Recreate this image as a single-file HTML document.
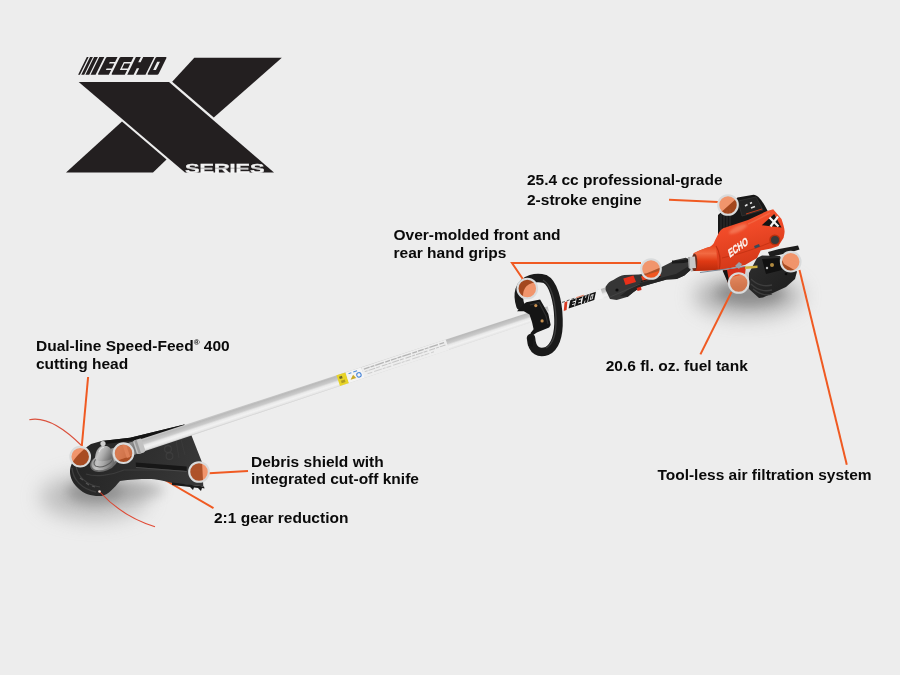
<!DOCTYPE html>
<html><head><meta charset="utf-8">
<style>
html,body{margin:0;padding:0;background:#ededed;}
body{width:900px;height:675px;overflow:hidden;position:relative;}
svg{position:absolute;left:0;top:0;display:block;will-change:transform;}
.t{font-family:"Liberation Sans",sans-serif;font-weight:bold;font-size:15.5px;fill:#0a0a0a;}
</style></head>
<body>
<svg width="900" height="675" viewBox="0 0 900 675">
<defs>
  <filter id="blur6" x="-50%" y="-50%" width="200%" height="200%"><feGaussianBlur stdDeviation="6"/></filter>
  <filter id="blur10" x="-50%" y="-50%" width="200%" height="200%"><feGaussianBlur stdDeviation="10"/></filter>
  <filter id="blur1" x="-50%" y="-50%" width="200%" height="200%"><feGaussianBlur stdDeviation="0.8"/></filter>
</defs>
<rect width="900" height="675" fill="#ededed"/>

<!-- LOGO -->
<g id="logo" fill="#231f20">
  <!-- main bar -->
  <polygon points="78.7,82 169,82 274,172.6 185,172.6"/>
  <!-- lower-left arm -->
  <polygon points="66,172.6 122,121.5 166.5,159.5 153,172.6"/>
  <!-- upper-right arm -->
  <polygon points="194.3,57.7 281.8,57.7 213.8,117.6 172.2,81.7"/>
  <!-- SERIES -->
  <text x="185" y="172.8" font-family="Liberation Sans" font-weight="bold" font-size="12" fill="#f4f4f4" stroke="#f4f4f4" stroke-width="0.35" textLength="79.5" lengthAdjust="spacingAndGlyphs">SERIES</text>
  <path d="M186,168.2 H265" stroke="#231f20" stroke-width="0.6" opacity="0.5"/>
  <!-- ECHO -->
  <g transform="translate(0,74.8) skewX(-26.1)">
    <path d="M78.1,0 h1.8 v-17.8 h-1.8 z M81.3,0 h2.9 v-17.8 h-2.9 z M85.4,0 h3.8 v-17.8 h-3.8 z M90.6,0 h5 v-17.8 h-5 z"/>
    <path d="M97.6,-16.6 q0,-1.2 1.2,-1.2 h10 v5 h-5.3 v1.6 h5.3 v4.8 h-5.3 v1.6 h5.3 v4.8 h-10 q-1.2,0 -1.2,-1.2 z"/>
    <path d="M111.2,-16.6 q0,-1.2 1.2,-1.2 h12.4 v5 h-7.3 v8 h7.3 v4.8 h-12.4 q-1.2,0 -1.2,-1.2 z M118.9,-11.2 h5.9 v4.8 h-5.9 z"/>
    <path d="M127.2,-17.8 h4.9 v5.3 h2.4 v-5.3 h11 v17.8 h-9.5 v-6.5 h-2.4 v6.5 h-6.4 z"/>
    <path d="M147.2,-16.6 q0,-1.2 1.2,-1.2 h8.6 q1.2,0 1.2,1.2 v15.4 q0,1.2 -1.2,1.2 h-8.6 q-1.2,0 -1.2,-1.2 z M150.8,-13 v8.2 h2.8 v-8.2 z" fill-rule="evenodd"/>
  </g>
</g>

<!-- SHADOWS -->
<g id="shadows">
  <ellipse cx="94" cy="497" rx="54" ry="23" fill="#9a9a9a" opacity="0.55" filter="url(#blur10)"/>
  <ellipse cx="95" cy="492" rx="28" ry="12" fill="#727272" opacity="0.55" filter="url(#blur6)"/>
  <ellipse cx="132" cy="490" rx="32" ry="9" fill="#8a8a8a" opacity="0.45" filter="url(#blur6)"/>
  <ellipse cx="748" cy="296" rx="54" ry="21" fill="#8a8a8a" opacity="0.6" filter="url(#blur10)"/>
  <ellipse cx="750" cy="293" rx="34" ry="12" fill="#707070" opacity="0.55" filter="url(#blur6)"/>
</g>

<!-- TRIMMER LINES -->
<path d="M29.3,419.7 C42,417 58,422 82,446" fill="none" stroke="#d8402a" stroke-width="1.1" opacity="0.9"/>

<!-- callout line 2:1 (behind shield) -->
<line x1="165" y1="480" x2="213.5" y2="508.2" stroke="#f05a22" stroke-width="2"/>

<!-- SHIELD + HEAD -->
<defs>
  <linearGradient id="shieldg" x1="0" y1="0" x2="1" y2="0.2">
    <stop offset="0" stop-color="#222"/>
    <stop offset="0.5" stop-color="#2c2c2c"/>
    <stop offset="1" stop-color="#363636"/>
  </linearGradient>
  <radialGradient id="gearg" cx="0.4" cy="0.35" r="0.7">
    <stop offset="0" stop-color="#e6e6e6"/>
    <stop offset="0.5" stop-color="#b4b4b4"/>
    <stop offset="1" stop-color="#6e6e6e"/>
  </radialGradient>
</defs>
<g id="head">
  <!-- shield + head body -->
  <path d="M91,444 L101.5,440.9 L130,437.8 L184.3,424.5 L191.4,435.2 L202.1,462.4 L203.3,486.2 L174.8,483.8 C165,481 155,479 148.7,479 C140,479 130,479.6 120,481 C114,488 108,495 101.5,496 C92,496.5 84,494 79,489 C73,484 70,478 70,471.5 C70,466 73,460 78,455 C82,451 86,447 91,444 Z" fill="url(#shieldg)"/>
  <!-- spool ridges -->
  <path d="M72,468 C73,480 82,489 96,492" fill="none" stroke="#3e3e3e" stroke-width="1.4"/>
  <path d="M76,465 C77,476 86,485 100,487" fill="none" stroke="#404040" stroke-width="1.2"/>
  <path d="M80,478 l3,2 M86,483 l3,2 M92,486 l3,1" stroke="#555" stroke-width="1.2"/>
  <!-- rim line -->
  <path d="M86,474 C95,477 110,476 124,470 L200,470" fill="none" stroke="#3c3c3c" stroke-width="1.2"/>
  <!-- knife band -->
  <path d="M172,482.5 L204,486.5 L204.5,488.5 L202,488 L201,491 L198,488 L194,487.5 L193,490 L190,487 L172,485 Z" fill="#1a1a1a"/>
  <!-- top black flange -->
  <path d="M101.5,440.9 L130,437.8 L184.3,424.5 L186,428 L130,441 L105,444 Z" fill="#141414"/>
  <!-- slot -->
  <path d="M135.7,462.4 L186.7,466.5 L186.7,471 L136,467 Z" fill="#171717"/>
  <path d="M136,467.5 L186.7,471.5" stroke="#4a4a4a" stroke-width="1"/>
  <!-- emboss -->
  <circle cx="168" cy="449" r="3.4" fill="none" stroke="#3e3e3e" stroke-width="1.1"/>
  <circle cx="169.5" cy="456" r="3.4" fill="none" stroke="#3e3e3e" stroke-width="1.1"/>
  <path d="M176,440 L179,458 M181,439 L185,455" stroke="#3a3a3a" stroke-width="1"/>
  <!-- gear housing -->
  <defs>
    <linearGradient id="domeg" x1="0" y1="0" x2="1" y2="0.4">
      <stop offset="0" stop-color="#7e7e7e"/>
      <stop offset="0.35" stop-color="#c4c4c4"/>
      <stop offset="0.6" stop-color="#a8a8a8"/>
      <stop offset="1" stop-color="#6c6c6c"/>
    </linearGradient>
  </defs>
  <g transform="translate(104,462) rotate(-22)">
    <ellipse cx="0" cy="0" rx="14.5" ry="9" fill="#6a6a6a"/>
    <ellipse cx="0" cy="-0.5" rx="13" ry="7.8" fill="url(#domeg)"/>
    <ellipse cx="0" cy="-1.5" rx="10" ry="5.5" fill="none" stroke="#5e5e5e" stroke-width="1"/>
  </g>
  <path d="M95,459 C95,452 98,447 102,446 L107,446 C111,448 114,452 114,457 C110,461 100,463 95,459 Z" fill="url(#domeg)"/>
  <path d="M99,452 C100,449 102,447.5 104,447.5" fill="none" stroke="#e0e0e0" stroke-width="1.2"/>
  <circle cx="103" cy="443.5" r="2.6" fill="#cfcfcf"/>
</g>

<path d="M99.8,492 C110,503 126,518 155,526.7" fill="none" stroke="#e03a22" stroke-width="1.1" opacity="0.9"/>
<circle cx="99.5" cy="491.5" r="1.3" fill="#f0e0d8"/>

<!-- SHAFT -->
<defs>
  <linearGradient id="tube" x1="0" y1="0" x2="0" y2="1">
    <stop offset="0" stop-color="#cdcdcd"/>
    <stop offset="0.15" stop-color="#bababa"/>
    <stop offset="0.42" stop-color="#cbcbcb"/>
    <stop offset="0.55" stop-color="#e8e8e8"/>
    <stop offset="0.72" stop-color="#f2f2f2"/>
    <stop offset="0.88" stop-color="#e6e6e6"/>
    <stop offset="1" stop-color="#c8c8c8"/>
  </linearGradient>
</defs>
<g transform="translate(135,447.75) rotate(-18.263)">
  <path d="M0,-6.3 L502.3,-4.8 L502.3,4.8 L0,6.3 Z" fill="url(#tube)"/>
  <!-- yellow label -->
  <rect x="214" y="-5.6" width="9.5" height="11.2" fill="#e8d428"/>
  <rect x="216" y="-3.5" width="3" height="2.5" fill="#3a3a2a" opacity="0.7"/>
  <rect x="216.5" y="1" width="4" height="2.5" fill="#8a7a20" opacity="0.6"/>
  <rect x="223.5" y="-5.6" width="16.5" height="11.2" fill="#f4f4f4"/>
  <path d="M226,-3.5 h3 M231,-3.5 h4" stroke="#4a8ad8" stroke-width="1"/>
  <path d="M226,3 l4,-4 l2,4z" fill="#c8a828"/>
  <circle cx="235.5" cy="1" r="2.2" fill="none" stroke="#4a86d8" stroke-width="1.1"/>
  <!-- sleeve with text -->
  <rect x="240" y="-5.4" width="89" height="10.8" fill="#eeeeee"/>
  <path d="M242,-3 h85" stroke="#b4b4b4" stroke-width="1.3" stroke-dasharray="6 1 4 1 9 1.5 5 1"/>
  <path d="M242,-0.3 h85" stroke="#c4c4c4" stroke-width="1" stroke-dasharray="3 1 7 1 4 2 6 1"/>
  <path d="M244,2.6 h70" stroke="#cfcfcf" stroke-width="1" stroke-dasharray="5 2 8 1 3 1"/>
  <!-- ECHO decal near handle -->
  <rect x="436" y="-5" width="56" height="10" fill="#f2f2f2"/>
  <path d="M450,4.5 l3.5,-8 h3 l-3.5,8z" fill="#d83a22"/>
  <g transform="skewX(-30)">
    <path d="M457.5,3.6 h27 v-7.2 h-27z" fill="#151515"/>
    <path d="M460.5,-1.2 h3 M460.5,1.2 h3 M467,-1.5 h3 v3 h-3 M474.2,-3.6 v2.4 M474.2,1.2 v2.4 M480,-1.8 h2 v3.6 h-2z M463.8,-3.6 v7.2 M470.8,-3.6 v7.2 M477.5,-3.6 v7.2" fill="none" stroke="#f2f2f2" stroke-width="0.9"/>
  </g>
  <path d="M446,-4.2 h3 M451,-4.2 h3 M456,-4.2 h3 M461,-4.2 h3" stroke="#555" stroke-width="0.9"/>
  <path d="M466,-4.2 h8" stroke="#e07050" stroke-width="0.9"/>
</g>

<g id="collar">
  <g transform="translate(135,447.75) rotate(-18.263)">
    <rect x="-24" y="-6.5" width="25" height="13" fill="url(#domeg)"/>
    <rect x="-24" y="-6.5" width="25" height="13" fill="#8c8c8c" opacity="0.45"/>
    <rect x="-11" y="-7.2" width="3.5" height="14.4" fill="#b8b8b8"/>
  </g>
  <!-- collar -->
  <g transform="translate(135,447.75) rotate(-18.263)">
    <rect x="0" y="-7.2" width="9" height="14.4" rx="2" fill="#c2c2c2"/>
    <rect x="1.5" y="-7.2" width="2.5" height="14.4" fill="#9c9c9c"/>
  </g>
</g>

<!-- FRONT HANDLE -->
<g id="fhandle">
  <path d="M520.5,306 C517,295 518,283 531,279 C536,277.5 540,277.5 545,279 C553,283 558,300 558.5,319 C559,335 555,347 547,351 C540,353.5 532,352 531,338" fill="none" stroke="#1a1a1a" stroke-width="8.5" stroke-linecap="round"/>
  <path d="M543,280 C551,285 555,300 556,318 C556.5,334 553,344 546,348" fill="none" stroke="#3c3c3c" stroke-width="1.3"/>
  <path d="M517,311.3 L523.8,304 L526.3,302.3 L540.1,299.5 L548.3,313.7 L550.7,325.1 L549.1,327.6 L536.9,332.5 L532,335.7 L528.7,337.3 L527.9,345.5 L532.5,347 L533.5,338 L530.4,333.3 L533.6,329.2 L532,321.9 L529.5,314.5 L523.8,311.3 Z" fill="#151515"/>
  <path d="M530,305 L539,302.5 L546,316 L548,324" fill="none" stroke="#2e2e2e" stroke-width="1.2"/>
  <circle cx="535.8" cy="305.6" r="1.6" fill="#c89050"/>
  <circle cx="542.1" cy="320.9" r="1.6" fill="#c89050"/>
</g>

<!-- REAR HANDLE -->
<g id="rhandle">
  <path d="M605.6,286.7 C608,283 610,281 613.3,280 C618,277 621,275.5 624.4,275 L638.9,274.4 L646.7,273.3 L662.2,266.7 L675.6,260 L685.6,257.8 L688.9,258.9 L690.6,270 L684.4,275.6 L676.7,278.9 L666.7,279.5 L653.3,283.3 L641.1,286.7 L633.3,292.2 L627.8,296.7 L616.7,300 L610,298.9 L605.6,290 Z" fill="#363636"/>
  <path d="M641.1,286.7 L653.3,283.3 L666.7,279.5 L676.7,278.9 L684.4,275.6 L690.6,270 L689,266 L676,274 L640,283 L628,290 L620,296 L627.8,296.7 L633.3,292.2 Z" fill="#242424"/>
  <path d="M672,262 C680,262 686,262 689,260" fill="none" stroke="#1a1a1a" stroke-width="3"/>
  <path d="M623.3,278.5 L633.5,275.5 L636,282 L625.5,285 Z" fill="#e8301a"/>
  <path d="M636.7,288 L641,286.5 L641.5,290 L637.5,291 Z" fill="#d02818"/>
  <path d="M641,276.5 L659,271 L661,276 L643,281.5 Z" fill="#e8401c"/>
  <path d="M641,281.5 L661,276" stroke="#1a1a1a" stroke-width="1.2"/>
  <circle cx="617" cy="290" r="1.6" fill="#0e0e0e"/>
  <path d="M610,297 C620,293 630,288 640,284" fill="none" stroke="#444" stroke-width="1"/>
  <path d="M690,258.5 L697,256 L699,269.5 L691,272 Z" fill="#c8c8c8"/>
  <path d="M693,257.5 v13.5" stroke="#8c8c8c" stroke-width="1"/>
</g>

<!-- ENGINE -->
<defs>
  <linearGradient id="redg" x1="0" y1="0" x2="0.35" y2="1">
    <stop offset="0" stop-color="#f55c34"/>
    <stop offset="0.45" stop-color="#f04a28"/>
    <stop offset="1" stop-color="#d43818"/>
  </linearGradient>
  <linearGradient id="noseg" x1="0" y1="0" x2="0" y2="1">
    <stop offset="0" stop-color="#e84a22"/>
    <stop offset="0.3" stop-color="#f26a42"/>
    <stop offset="0.6" stop-color="#e03a14"/>
    <stop offset="1" stop-color="#b82a0c"/>
  </linearGradient>
  <linearGradient id="tankg" x1="0" y1="0" x2="1" y2="1">
    <stop offset="0" stop-color="#2e2e2e"/>
    <stop offset="1" stop-color="#1c1c1c"/>
  </linearGradient>
</defs>
<g id="engine">
  <!-- top black housing -->
  <path d="M718,234 L718,215 L737.5,197.5 L753.5,194.7 C758,195 762,200 767,209.8 L772,219 L735,238 Z" fill="#171717"/>
  <path d="M721,214 v18 M724,212 v19 M727,210 v19 M730,209 v19" stroke="#2c2c2c" stroke-width="1.2"/>
  <path d="M738,201 L756,197 L763,210 L742,216 Z" fill="#232323" stroke="#333" stroke-width="0.8"/>
  <path d="M745,206 l2.5,-1.5 M750,203.5 l2,-1 M751,208 l4,-1.5" stroke="#e0e0e0" stroke-width="1.5"/>
  <path d="M746,214 L762,209" stroke="#c03a18" stroke-width="1"/>
  <!-- dark piece left under body -->
  <path d="M723,270 L746,266.5 L745,274 L732,277 L728,283 Z" fill="#d8301a"/>
  <path d="M722.5,270.5 L727,270 L729.5,283 L728,283 Z" fill="#141414"/>
  <!-- black tank -->
  <path d="M757,258 L762,255.5 L780,256 L784,264 L797,271.5 L795,279 L786,287 L763,297.5 L759,298 L749,289 L749,273 Z" fill="url(#tankg)"/>
  <path d="M751,279 C757,285 764,287 772,285 M751,284 C757,290 764,292 772,290 M753,289 C759,294 766,296 772,294" fill="none" stroke="#3e3e3e" stroke-width="1.3"/>
  <path d="M762,259 L779,258 L782,270 L766,274 Z" fill="#111"/>
  <circle cx="772" cy="265" r="2" fill="#b08a40"/>
  <circle cx="767" cy="268" r="1.2" fill="#c0c0c0"/>
  <circle cx="786" cy="274" r="1.3" fill="#0c0c0c"/>
  <path d="M768,252 L779,249 L798,245.5 L799.5,249.5 L790,252.5 L770,257 Z" fill="#1c1c1c"/>
  <!-- red body -->
  <path d="M693.6,253.3 C700,250 706,248 710.2,246.7 C713,245 714,243 714.7,241.1 L719.1,232.2 C721,229.5 722.5,228.5 724.7,227.8 L748,220 L767,211 L773.2,209.3 L781.5,219.1 C783,224 784.6,228 784.6,231.6 C784.5,234 784,236 783.6,237.8 L778.4,246 L771,248.5 L760.7,250.5 L757,258 L745,265 L721.3,270 L693.6,271.1 Z" fill="url(#redg)"/>
  <!-- nose shading -->
  <path d="M693.6,253.3 C700,250 706,248 710.2,246.7 L716,246 L718,270 L693.6,271.1 Z" fill="url(#noseg)"/>
  <path d="M716,246 C720,252 721,262 719,270" fill="none" stroke="#b82a0c" stroke-width="1.2" opacity="0.8"/>
  <ellipse cx="738" cy="229" rx="10" ry="3" transform="rotate(-25 738 229)" fill="#f89a78" opacity="0.5" filter="url(#blur1)"/>
  <path d="M748,224 C755,221 762,217 770,213" fill="none" stroke="#f57a55" stroke-width="1.5" opacity="0.5"/>
  <path d="M722,258 C740,254 758,248 776,240" fill="none" stroke="#b82a0c" stroke-width="1" opacity="0.6"/>
  <!-- nose ring + coupling -->
  <ellipse cx="694.5" cy="262.2" rx="2.8" ry="8.8" fill="#6a3020"/>
  <path d="M688,257 L695,256.5 L696,268 L689,268.5 Z" fill="#c8c8c8"/>
  <path d="M689,257 v11" stroke="#8a8a8a" stroke-width="1"/>
  <!-- black X window -->
  <path d="M761.8,225.3 L774.2,213.9 L781.5,227.4 Z" fill="#141414"/>
  <path d="M769.5,217.5 L778.5,226.5 M778,216.5 L770.5,226.5" stroke="#f4f4f4" stroke-width="2.2"/>
  <!-- knob -->
  <circle cx="774.8" cy="239.9" r="5.5" fill="#b8300e"/>
  <circle cx="775" cy="240" r="4" fill="#3a3a3a"/>
  <!-- small dark badge -->
  <path d="M754,246 l5,-2 l1,2.5 l-5,2z" fill="#3a4a5a"/>
  <!-- ECHO on red -->
  <g transform="translate(738,247) rotate(-36) skewX(-20)">
    <text x="-11.5" y="3.8" font-family="Liberation Sans" font-weight="bold" font-size="10.5" fill="#fbf4f0" stroke="#fbf4f0" stroke-width="0.3" textLength="23" lengthAdjust="spacingAndGlyphs">ECHO</text>
  </g>
  <!-- brass fitting + wire -->
  <path d="M745,266.5 L757.5,265.5 L757.5,268 L745,269 Z" fill="#d0b040"/>
  <path d="M700,272.5 L745,266.5" stroke="#7a8a9a" stroke-width="1"/>
  <path d="M735,266 l4,-4 l3,2 l-3,5z" fill="#9aa0a8"/>
</g>

<!-- CALLOUT LINES -->
<g stroke="#f05a22" stroke-width="2" fill="none">
  <line x1="669" y1="199.8" x2="718" y2="202"/>
  <polyline points="641,263 512,263 523.5,280"/>
  <line x1="88.1" y1="377" x2="81.8" y2="446"/>
  <line x1="209" y1="473.2" x2="248" y2="471"/>
  <line x1="700.4" y1="354.4" x2="731.5" y2="292"/>
  <line x1="846.8" y1="464.8" x2="799.5" y2="270"/>
</g>

<!-- CIRCLES -->
<g id="circles">
  <g fill="#f26323" fill-opacity="0.64" stroke="#d9dbdc" stroke-width="2.1">
    <circle cx="728" cy="205" r="9.8"/>
    <circle cx="651" cy="269" r="9.8"/>
    <circle cx="527.3" cy="288.5" r="9.8"/>
    <circle cx="80.2" cy="456.7" r="9.8"/>
    <circle cx="123.5" cy="453.2" r="9.8"/>
    <circle cx="199" cy="472" r="9.8"/>
    <circle cx="738.7" cy="283" r="9.8"/>
    <circle cx="790.7" cy="261.7" r="9.8"/>
  </g>
</g>

<!-- TEXT -->
<text class="t" x="527" y="185">25.4 cc professional-grade</text>
<text class="t" x="527" y="205">2-stroke engine</text>
<text class="t" x="393.5" y="239.5">Over-molded front and</text>
<text class="t" x="393.5" y="257.5">rear hand grips</text>
<text class="t" x="36" y="351">Dual-line Speed-Feed<tspan font-size="8" dy="-6">®</tspan><tspan dy="6"> 400</tspan></text>
<text class="t" x="36" y="369">cutting head</text>
<text class="t" x="251" y="466.5">Debris shield with</text>
<text class="t" x="251" y="484">integrated cut-off knife</text>
<text class="t" x="214" y="523">2:1 gear reduction</text>
<text class="t" x="605.7" y="371">20.6 fl. oz. fuel tank</text>
<text class="t" x="657.4" y="480">Tool-less air filtration system</text>
</svg>
</body></html>
